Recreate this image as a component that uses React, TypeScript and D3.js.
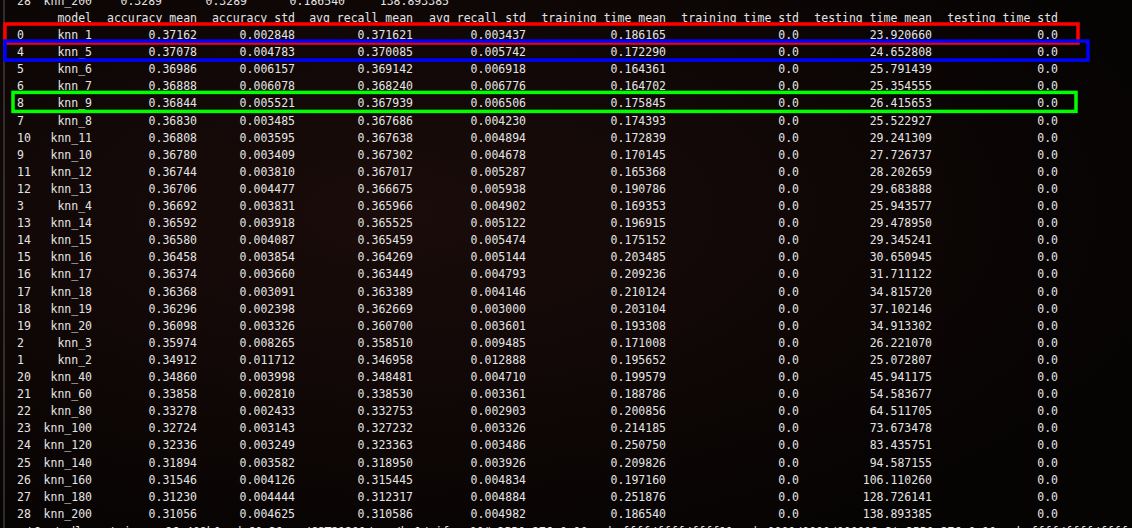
import React from 'react';
import * as d3 from 'd3';

const headers = ['model', 'accuracy_mean', 'accuracy_std', 'avg_recall_mean', 'avg_recall_std', 'training_time_mean', 'training_time_std', 'testing_time_mean', 'testing_time_std'];
const index = ['0','4','5','6','8','7','10','9','11','12','3','13','14','15','16','17','18','19','2','1','20','21','22','23','24','25','26','27','28'];
const models = ['knn_1','knn_5','knn_6','knn_7','knn_9','knn_8','knn_11','knn_10','knn_12','knn_13','knn_4','knn_14','knn_15','knn_16','knn_17','knn_18','knn_19','knn_20','knn_3','knn_2','knn_40','knn_60','knn_80','knn_100','knn_120','knn_140','knn_160','knn_180','knn_200'];
const accMean = ['0.37162','0.37078','0.36986','0.36888','0.36844','0.36830','0.36808','0.36780','0.36744','0.36706','0.36692','0.36592','0.36580','0.36458','0.36374','0.36368','0.36296','0.36098','0.35974','0.34912','0.34860','0.33858','0.33278','0.32724','0.32336','0.31894','0.31546','0.31230','0.31056'];
const accStd = ['0.002848','0.004783','0.006157','0.006078','0.005521','0.003485','0.003595','0.003409','0.003810','0.004477','0.003831','0.003918','0.004087','0.003854','0.003660','0.003091','0.002398','0.003326','0.008265','0.011712','0.003998','0.002810','0.002433','0.003143','0.003249','0.003582','0.004126','0.004444','0.004625'];
const recMean = ['0.371621','0.370085','0.369142','0.368240','0.367939','0.367686','0.367638','0.367302','0.367017','0.366675','0.365966','0.365525','0.365459','0.364269','0.363449','0.363389','0.362669','0.360700','0.358510','0.346958','0.348481','0.338530','0.332753','0.327232','0.323363','0.318950','0.315445','0.312317','0.310586'];
const recStd = ['0.003437','0.005742','0.006918','0.006776','0.006506','0.004230','0.004894','0.004678','0.005287','0.005938','0.004902','0.005122','0.005474','0.005144','0.004793','0.004146','0.003000','0.003601','0.009485','0.012888','0.004710','0.003361','0.002903','0.003326','0.003486','0.003926','0.004834','0.004884','0.004982'];
const trainMean = ['0.186165','0.172290','0.164361','0.164702','0.175845','0.174393','0.172839','0.170145','0.165368','0.190786','0.169353','0.196915','0.175152','0.203485','0.209236','0.210124','0.203104','0.193308','0.171008','0.195652','0.199579','0.188786','0.200856','0.214185','0.250750','0.209826','0.197160','0.251876','0.186540'];
const testMean = ['23.920660','24.652808','25.791439','25.354555','26.415653','25.522927','29.241309','27.726737','28.202659','29.683888','25.943577','29.478950','29.345241','30.650945','31.711122','34.815720','37.102146','34.913302','26.221070','25.072807','45.941175','54.583677','64.511705','73.673478','83.435751','94.587155','106.110260','128.726141','138.893385'];
const colRight = [92, 197, 295, 413, 526, 666, 799, 932, 1058];
const topLine = ['knn_200', '0.3289', '0.3289', '0.186540', '138.893385'];
const topRight = [92, 162, 247, 345, 449];
const highlights = [
  { row: 0, color: '#ff0000', x0: 5, x1: 1078 },
  { row: 1, color: '#0000ff', x0: 5, x1: 1088 },
  { row: 4, color: '#00ff00', x0: 13, x1: 1076 },
];

export default function App() {
  const W = 1132, H = 528;
  const y = d3.scaleLinear().domain([0, 1]).range([39, 56.1]);
  const font = { fontFamily: '"DejaVu Sans Mono", monospace', fontSize: 11.5, fill: '#e4e4e4' };
  const rows = models.map((m, i) => [m, accMean[i], accStd[i], recMean[i], recStd[i], trainMean[i], '0.0', testMean[i], '0.0']);
  return (
    <svg width={W} height={H} style={{ position: 'absolute', left: 0, top: 0, background: '#0a0505' }}>
      <defs>
        <radialGradient id="bg" cx="0.35" cy="0.4" r="0.7">
          <stop offset="0" stopColor="#1a0c0a" />
          <stop offset="1" stopColor="#060303" />
        </radialGradient>
      </defs>
      <rect width={W} height={H} fill="url(#bg)" />
      <line x1={4} x2={4} y1={0} y2={H} stroke="#555" strokeWidth={1} />
      <g style={font}>
        <text x={17} y={y(-2)}>28</text>
        {topLine.map((t, j) => <text key={j} x={topRight[j]} y={y(-2)} textAnchor="end">{t}</text>)}
        {headers.map((h, j) => <text key={h} x={colRight[j]} y={y(-1)} textAnchor="end">{h}</text>)}
        {rows.map((r, i) => (
          <g key={i}>
            <text x={17} y={y(i)}>{index[i]}</text>
            {r.map((v, j) => <text key={j} x={colRight[j]} y={y(i)} textAnchor="end">{v}</text>)}
          </g>
        ))}
        <text x={6} y={y(29) + 1}>root@autodl-container-a96c409b0e-dc60e39e:~/CST21311/src/hw1/cifar_10# 3PB0 276 0x10 rgb:ffff/ffff/ffff11 rgb:0000/0000/000012 3t;3PB0 276 0x10 rgb:ffff/ffff/ffff</text>
      </g>
      {highlights.map((h, k) => (
        <rect key={k} x={h.x0} y={y(h.row) - 15} width={h.x1 - h.x0} height={19}
          fill="none" stroke={h.color} strokeWidth={3.5} />
      ))}
    </svg>
  );
}
